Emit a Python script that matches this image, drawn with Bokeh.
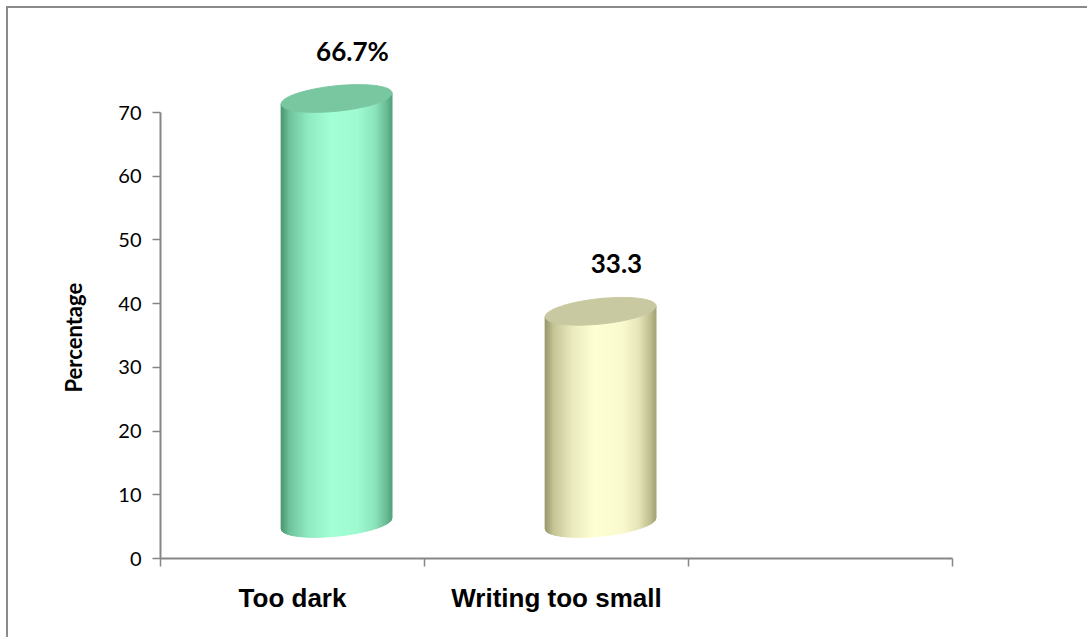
import numpy as np
from bokeh.plotting import figure
from bokeh.models import FixedTicker, ColumnDataSource, Range1d, Title
from bokeh.core.properties import value
from bokeh.embed import file_html
from bokeh.resources import INLINE

# chart data
categories = ["Too dark", "Writing too small"]
percentages = [66.7, 33.3]
value_labels = ["66.7%", "33.3"]
y_ticks = [0, 10, 20, 30, 40, 50, 60, 70]

# cylinder colours: (shadow, highlight, cap)
body_dark = [(70, 146, 108), (148, 148, 100)]
body_light = [(162, 255, 214), (255, 255, 212)]
cap_colors = ["#79C7A0", "#C9C9A1"]

# 3-D look parameters (data units)
floor_lift = 5.5      # how far the cylinder floor sits above the axis
depth_shift = 0.167   # sideways shift of the cylinders from category centres
radius_x = 0.21       # half width of a cylinder
radius_y = 2.0        # half height of the elliptic caps
tilt = 4.07           # y-shear of the caps per x unit
label_gap = 7.5       # value label distance above the cap

p = figure(width=1081, height=631, output_backend="svg", toolbar_location=None,
           x_range=Range1d(0, 3), y_range=Range1d(0, 82.87),
           min_border_left=152, min_border_right=137,
           min_border_top=22, min_border_bottom=81,
           margin=(6, 0, 0, 6))
p.styles = {"border-left": "2px solid #8a8a8a", "border-top": "2px solid #8a8a8a"}
p.outline_line_color = None
p.grid.visible = False
p.background_fill_color = "white"
p.border_fill_color = "white"

AXIS_GREY = "#868686"

# y axis
ya = p.yaxis[0]
ya.ticker = FixedTicker(ticks=y_ticks, minor_ticks=[])
ya.bounds = (0, 70)
ya.axis_line_color = AXIS_GREY
ya.axis_line_width = 2
ya.major_tick_line_color = AXIS_GREY
ya.major_tick_line_width = 1.5
ya.major_tick_in = 0
ya.major_tick_out = 8
ya.minor_tick_line_color = None
ya.major_label_text_font = "Lato"
ya.major_label_text_font_size = "20px"
ya.major_label_text_color = "black"
ya.major_label_standoff = 11

# y axis title, centred on the 0-70 span of the axis rather than the frame
p.add_layout(Title(text="Percentage", align="left", offset=166, standoff=58,
                   text_font="Lato", text_font_style="bold", text_font_size="22px",
                   text_color="black"), "left")

# x axis: labels at category centres, tick marks at category boundaries
xa = p.xaxis[0]
xa.ticker = FixedTicker(ticks=[i + 0.5 for i in range(len(categories))],
                        minor_ticks=[0, 1, 2, 3])
xa.major_label_overrides = {i + 0.5: c for i, c in enumerate(categories)}
xa.axis_line_color = AXIS_GREY
xa.axis_line_width = 2
xa.major_tick_line_color = None
xa.minor_tick_line_color = AXIS_GREY
xa.minor_tick_line_width = 1.5
xa.minor_tick_in = 0
xa.minor_tick_out = 8
xa.major_label_text_font = "Liberation Sans"
xa.major_label_text_font_style = "bold"
xa.major_label_text_font_size = "26px"
xa.major_label_text_color = "black"
xa.major_label_standoff = 16


def shade(t):
    pts_t = [0.0, 0.08, 0.25, 0.45, 0.7, 0.85, 0.95, 1.0]
    pts_m = [0.0, 0.45, 0.8, 1.0, 0.95, 0.75, 0.4, 0.15]
    return np.interp(t, pts_t, pts_m)


def to_hex(rgb):
    return "#%02x%02x%02x" % tuple(int(round(c)) for c in rgb)


n_strips = 90
for i, (cat, val) in enumerate(zip(categories, percentages)):
    cx = i + 0.5 + depth_shift
    top_c = floor_lift + val
    edges = np.linspace(-radius_x, radius_x, n_strips + 1)
    xs, ys, cols = [], [], []
    dark = np.array(body_dark[i], float)
    light = np.array(body_light[i], float)
    for j in range(n_strips):
        d0, d1 = edges[j], edges[j + 1]
        b0 = floor_lift + tilt * d0 - radius_y * np.sqrt(max(0.0, 1 - (d0 / radius_x) ** 2))
        b1 = floor_lift + tilt * d1 - radius_y * np.sqrt(max(0.0, 1 - (d1 / radius_x) ** 2))
        t0 = top_c + tilt * d0
        t1 = top_c + tilt * d1
        xs.append([cx + d0, cx + d1, cx + d1, cx + d0])
        ys.append([b0, b1, t1, t0])
        tm = (j + 0.5) / n_strips
        cols.append(to_hex(dark + shade(tm) * (light - dark)))
    src = ColumnDataSource(dict(xs=xs, ys=ys, c=cols))
    p.patches("xs", "ys", source=src, fill_color="c", line_color="c", line_width=1)

    # top cap
    th = np.linspace(0, 2 * np.pi, 120)
    ex = cx + radius_x * np.cos(th)
    ey = top_c + tilt * radius_x * np.cos(th) + radius_y * np.sin(th)
    p.patch(ex, ey, fill_color=cap_colors[i], line_color=cap_colors[i], line_width=1)

# value labels
lab = ColumnDataSource(dict(
    x=[i + 0.5 + depth_shift + 0.06 for i in range(len(categories))],
    y=[v + floor_lift + label_gap for v in percentages],
    t=value_labels))
p.text("x", "y", text="t", source=lab, text_align="center", text_baseline="middle",
       text_font=value("Lato"), text_font_style="bold", text_font_size="26px",
       text_color="black")

open("out.html", "w").write(file_html(p, INLINE))
